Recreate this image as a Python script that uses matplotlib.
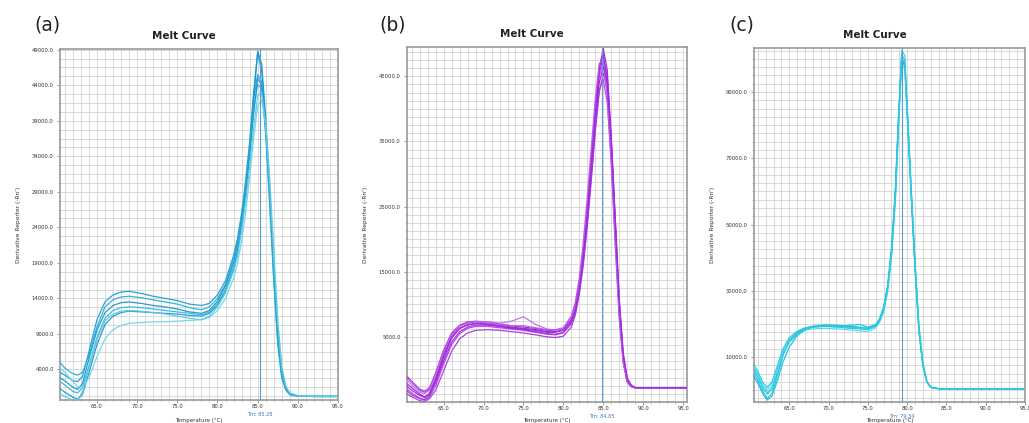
import matplotlib
matplotlib.use('Agg')
import matplotlib.pyplot as plt
from matplotlib.ticker import FixedLocator, FormatStrFormatter
import numpy as np

# ── Panel (a): melt curves, blue ──────────────────────────────────────────────
temps_a = [60.4, 61.0, 62.0, 62.6, 63.2, 64.0, 65.0, 66.0, 67.0, 68.0, 69.0, 70.5,
           72.0, 73.5, 75.0, 76.5, 78.0, 79.0, 80.0, 81.0, 82.0, 82.5, 83.0, 83.5,
           84.0, 84.5, 85.0, 85.5, 86.0, 86.5, 87.0, 87.5, 88.0, 88.5, 89.0, 90.0,
           92.0, 95.0]
curves_a = [
    [3600, 3200, 2400, 2300, 3000, 6500, 11000, 13500, 14500, 14900, 15000, 14700,
     14300, 14000, 13700, 13200, 13000, 13300, 14500, 16500, 20000, 22500, 26000, 30500,
     36000, 43000, 48500, 46000, 38000, 28000, 17000, 8000, 3000, 1200, 500, 250, 200, 200],
    [5000, 4200, 3400, 3200, 3600, 6000, 10000, 12800, 13800, 14200, 14300, 14100,
     13800, 13500, 13200, 12700, 12400, 12800, 14000, 16000, 19500, 22000, 25500, 30000,
     35500, 42000, 45500, 44500, 37000, 27000, 16500, 7500, 2800, 1100, 450, 250, 200, 200],
    [2800, 2400, 1500, 1200, 2000, 5500, 9500, 12000, 13000, 13400, 13500, 13300,
     13000, 12800, 12500, 12100, 11900, 12300, 13600, 15800, 19000, 21500, 25000, 29500,
     35000, 42000, 48800, 47000, 39500, 29500, 18500, 9000, 3500, 1300, 500, 250, 200, 200],
    [2300, 1800, 900, 700, 1500, 4500, 8500, 11200, 12300, 12700, 12800, 12700,
     12500, 12300, 12100, 11900, 11700, 12100, 13300, 15300, 18500, 21000, 24500, 29000,
     34500, 40500, 44100, 43500, 37500, 28500, 18000, 9000, 3600, 1400, 550, 250, 200, 200],
    [1300, 800, 100, -200, 500, 3500, 7500, 10300, 11500, 12000, 12200, 12100,
     12000, 11900, 11800, 11600, 11500, 11900, 13000, 15000, 18000, 20500, 24000, 28500,
     34000, 40000, 45000, 44000, 38000, 29000, 19000, 9500, 3800, 1500, 600, 250, 200, 200],
    [4200, 3600, 2300, 1600, 1400, 2800, 5800, 8300, 9600, 10200, 10500, 10600,
     10700, 10700, 10800, 10900, 11000, 11300, 12300, 14000, 16800, 19000, 22000, 26000,
     31000, 36500, 41000, 42000, 38500, 31000, 21000, 11000, 4500, 1700, 700, 300, 200, 200],
    [600, 200, -300, -200, 800, 4200, 8200, 10800, 11800, 12200, 12300, 12200,
     12000, 11800, 11500, 11200, 11000, 11500, 12800, 14800, 17800, 20000, 23500, 27500,
     32500, 38000, 42500, 43000, 38500, 30000, 20000, 10500, 4200, 1600, 650, 300, 200, 200],
]
colors_a = ['#1a9fd2', '#2aaedb', '#1b95cc', '#33b8de', '#2196cf', '#6fd6e6', '#5ccbe2']

# ── Panel (b): melt curves, purple ────────────────────────────────────────────
temps_b = [60.4, 61.0, 62.0, 62.6, 63.2, 64.0, 65.0, 66.0, 67.0, 68.0, 69.0, 70.5,
           72.0, 73.5, 75.0, 76.5, 78.0, 79.0, 80.0, 81.0, 81.5, 82.0, 82.5, 83.0,
           83.5, 84.0, 84.5, 85.0, 85.5, 86.0, 86.5, 87.0, 87.5, 88.0, 88.5, 89.0,
           90.0, 92.0, 95.5]
curves_b = [
    [-1200, -2000, -3200, -3500, -3000, -500, 3000, 5600, 6800, 7300, 7400, 7300,
     7000, 6700, 6500, 6300, 6000, 6000, 6300, 8000, 10000, 13500, 18500, 25000,
     32500, 40000, 46500, 48500, 44000, 34000, 21000, 9000, 1500, -1800, -2600, -2800,
     -2800, -2800, -2800],
    [-2200, -2800, -3800, -4200, -3800, -1800, 1800, 4800, 6300, 6900, 7100, 7000,
     6800, 6500, 6300, 6100, 5800, 5800, 6100, 7600, 9500, 13000, 18000, 24500,
     32000, 39500, 46000, 49300, 46000, 36000, 23000, 10500, 2200, -1500, -2500, -2800,
     -2800, -2800, -2800],
    [-3000, -3600, -4400, -4700, -4300, -2500, 800, 3800, 5500, 6300, 6600, 6600,
     6400, 6200, 6000, 5700, 5400, 5300, 5600, 7000, 8800, 12000, 16500, 22500,
     29500, 37000, 43000, 44500, 41000, 32000, 20000, 8500, 1200, -1900, -2600, -2800,
     -2800, -2800, -2800],
    [-1600, -2400, -3500, -3700, -3200, -1200, 2400, 5200, 6600, 7100, 7300, 7300,
     7100, 7400, 8100, 6900, 6200, 6000, 6200, 7800, 9800, 13200, 18000, 24500,
     31500, 39000, 45000, 47000, 43500, 33500, 21000, 9000, 1500, -1800, -2600, -2800,
     -2800, -2800, -2800],
    [-3800, -4200, -4800, -4900, -4500, -3200, -200, 2800, 4700, 5600, 6000, 6100,
     6000, 5800, 5600, 5300, 5000, 4900, 5100, 6500, 8300, 11500, 16000, 22000,
     29000, 36500, 42500, 45500, 43000, 34500, 22500, 10500, 2300, -1500, -2500, -2800,
     -2800, -2800, -2800],
    [-2600, -3200, -4000, -4300, -3700, -1400, 2200, 5000, 6300, 6800, 7000, 6900,
     6600, 6400, 6200, 6000, 5700, 5700, 6000, 7500, 9200, 12500, 17500, 24000,
     31500, 39000, 45500, 48000, 45000, 35000, 22000, 9500, 1800, -1600, -2500, -2800,
     -2800, -2800, -2800],
    [-1000, -1800, -3000, -3300, -2800, -600, 2800, 5400, 6700, 7200, 7300, 7100,
     6900, 6700, 6700, 6400, 6100, 6100, 6400, 8200, 10300, 14000, 19500, 26500,
     34000, 41500, 47000, 47500, 42000, 31500, 19000, 7800, 1000, -2000, -2700, -2800,
     -2800, -2800, -2800],
    [-3300, -3900, -4500, -4600, -4000, -2000, 1300, 4200, 5800, 6500, 6800, 6800,
     6600, 6300, 6100, 5800, 5500, 5400, 5700, 7200, 9000, 12200, 17000, 23000,
     30500, 38000, 44000, 46500, 44000, 35500, 23500, 11000, 2600, -1300, -2400, -2800,
     -2800, -2800, -2800],
]
colors_b = ['#a52ee0', '#9a22d8', '#b444e6', '#c06ceb', '#a836e2', '#9f28dc', '#b95ae8', '#a22adc']

# ── Panel (c): melt curves, cyan ──────────────────────────────────────────────
temps_c = [60.5, 61.0, 61.7, 62.2, 62.8, 63.5, 64.2, 65.0, 66.0, 67.0, 68.0, 69.5,
           71.0, 72.5, 74.0, 75.0, 76.0, 76.5, 77.0, 77.5, 78.0, 78.5, 78.9, 79.3,
           79.7, 80.1, 80.5, 81.0, 81.5, 82.0, 82.5, 83.0, 84.0, 86.0, 90.0, 95.0]
curves_c = [
    [7600, 5500, 2000, 800, 2500, 7500, 12500, 15800, 17800, 18800, 19200, 19300,
     19000, 18700, 18500, 18300, 19500, 21500, 25000, 31000, 42000, 60000, 82000, 100000,
     98000, 79000, 60000, 37000, 18000, 7500, 2500, 800, 400, 300, 300, 300],
    [6500, 4200, 800, -800, 800, 6000, 11500, 15200, 17500, 18700, 19300, 19600,
     19400, 19100, 18800, 18500, 19400, 21000, 24000, 30000, 40500, 58000, 80000, 102500,
     101000, 81000, 61000, 38500, 19000, 8000, 2600, 900, 400, 300, 300, 300],
    [5000, 2800, -800, -2500, -1000, 4500, 10500, 14800, 17300, 18500, 19000, 19200,
     19200, 19500, 19800, 19000, 19800, 21500, 25000, 31500, 43000, 61000, 83000, 101000,
     97000, 78000, 59000, 36500, 17500, 7200, 2400, 800, 400, 300, 300, 300],
    [7000, 4800, 1200, 0, 1800, 6500, 11000, 14500, 16800, 18000, 18500, 18600,
     18500, 18200, 17900, 17700, 18800, 20500, 23500, 29500, 40000, 57000, 79000, 98000,
     97000, 80000, 61500, 39000, 19500, 8200, 2800, 900, 400, 300, 300, 300],
    [4000, 2000, -1500, -3000, -1800, 3000, 8500, 13000, 16500, 18300, 19200, 19700,
     19600, 19300, 19000, 18700, 19600, 21300, 24500, 30500, 41500, 59500, 81500, 99500,
     99000, 80000, 60500, 38000, 18500, 7800, 2500, 850, 400, 300, 300, 300],
    [6000, 3800, 200, -1200, 200, 5200, 10800, 14600, 17000, 18400, 19000, 19400,
     19300, 19000, 18600, 18400, 19200, 21000, 24500, 30500, 41000, 59000, 81000, 101500,
     99500, 80500, 60500, 38000, 18500, 7700, 2500, 850, 400, 300, 300, 300],
]
colors_c = ['#1ec5e0', '#3fd0e6', '#22bfdc', '#5ad7ea', '#19c1dd', '#30cbe3']

# per-panel axis settings
xlims = [(60.4, 95.0), (60.4, 95.5), (60.5, 95.0)]
ylims = [(-300, 49100), (-5000, 49500), (-3600, 103300)]
yticks = [[4000, 9000, 14000, 19000, 24000, 29000, 34000, 39000, 44000, 49000],
          [5000, 15000, 25000, 35000, 45000],
          [10000, 30000, 50000, 70000, 90000]]
ygrid_steps = [1250, 1250, 2500]
tm_values = [85.28, 84.85, 79.34]
tags = ['(a)', '(b)', '(c)']
xticks = [65, 70, 75, 80, 85, 90, 95]

W, H = 1029, 423
fig = plt.figure(figsize=(W / 100, H / 100), dpi=100)
fig.patch.set_facecolor('white')

# axes boxes in pixels: left, bottom edge (from top), width, height
boxes_px = [(60, 400, 278, 351), (407, 402, 280, 355), (754, 402, 271, 354)]

panels = [(temps_a, curves_a, colors_a), (temps_b, curves_b, colors_b), (temps_c, curves_c, colors_c)]

for i, (temps, curves, cols) in enumerate(panels):
    left, bottom, w, h = boxes_px[i]
    ax = fig.add_axes([left / W, 1 - bottom / H, w / W, h / H])
    for vals, c in zip(curves, cols):
        ax.plot(temps, vals, color=c, lw=0.9, alpha=0.95, zorder=3)

    ax.set_xlim(*xlims[i])
    ax.set_ylim(*ylims[i])

    # fine grid: every 1 degree, and a few steps per y tick
    ax.xaxis.set_major_locator(FixedLocator(xticks))
    ax.xaxis.set_minor_locator(FixedLocator(np.arange(61, 96, 1)))
    y0 = yticks[i][0]
    step = ygrid_steps[i]
    ax.yaxis.set_major_locator(FixedLocator(yticks[i]))
    ax.yaxis.set_minor_locator(FixedLocator(np.arange(y0 - 8 * step, ylims[i][1], step)))
    ax.xaxis.set_major_formatter(FormatStrFormatter('%.1f'))
    ax.yaxis.set_major_formatter(FormatStrFormatter('%.1f'))
    ax.grid(which='both', color='#d3d3d3', lw=0.6, zorder=0)
    ax.set_axisbelow(True)

    ax.tick_params(which='major', labelsize=3.8, length=2.5, width=0.6, color='#888888',
                   labelcolor='#333333', pad=2)
    ax.tick_params(axis='x', which='major', length=2, pad=1.2)
    ax.tick_params(which='minor', length=1.5, width=0.4, color='#aaaaaa')
    for sp in ax.spines.values():
        sp.set_color('#9a9a9a')
        sp.set_linewidth(1.2)

    # Tm marker
    ax.axvline(tm_values[i], color='#5d9bd0', lw=0.8, zorder=4)
    ax.text(tm_values[i], -(bottom + 11.5 - bottom) / h, f'Tm: {tm_values[i]:.2f}',
            transform=ax.get_xaxis_transform(),
            ha='center', va='top', fontsize=3.6, color='#3a7cc4')

    ax.set_ylabel("Derivative Reporter (-Rn')", fontsize=4.2, color='#333333', labelpad=8)
    ax.set_xlabel('Temperature (°C)', fontsize=4.0, color='#333333', va='top')
    ax.xaxis.set_label_coords(0.5, -(417.5 - bottom) / h)

    ax.text(0.446, 1 + 13 / h, 'Melt Curve', transform=ax.transAxes, ha='center', va='center',
            fontsize=7.5, fontweight='bold', color='#222222')

label_pos = [(47, 25), (393, 25), (742, 25)]
for (px, py), tag in zip(label_pos, tags):
    fig.text(px / W, 1 - py / H, tag, ha='center', va='center', fontsize=13.5,
             color='#222222')

fig.savefig('out.png', dpi=100, facecolor='white')
